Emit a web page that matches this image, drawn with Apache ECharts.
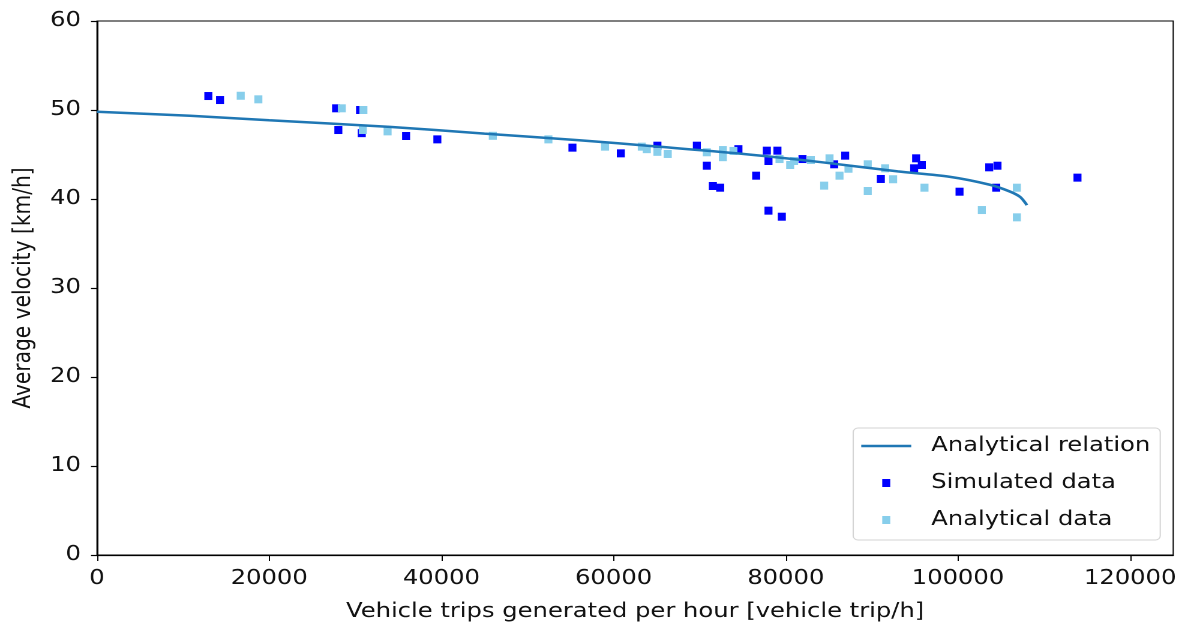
<!DOCTYPE html>
<html>
<head>
<meta charset="utf-8">
<script src="https://cdn.jsdelivr.net/npm/echarts@6/dist/echarts.min.js"></script>
<style>
  html, body { margin: 0; padding: 0; background: #fff; overflow: hidden; }
  /* The figure is laid out narrower and widened by the same factor as STRETCH below */
  #chart { width: 985.8px; height: 628px; transform: scaleX(1.2); transform-origin: 0 0; }
</style>
</head>
<body>
<div id="chart"></div>
<script>
// Analytical speed–flow relation [vehicle trip/h, km/h]
const relationFlow  = [0, 10800, 20000, 34000, 45000, 56000, 65000, 74700, 84000, 93000, 99000, 103700, 106000, 107200, 107800, 108000];
const relationSpeed = [49.8, 49.35, 48.85, 48.1, 47.35, 46.6, 45.9, 45.1, 44.15, 43.1, 42.5, 41.6, 40.85, 40.25, 39.6, 39.3];

// Simulated data points
const simFlow  = [12930, 14290, 27765, 28030, 30550, 30750, 35900, 39530, 55220, 60840, 65090, 69670, 70830, 71530, 72380, 74500,
                  76560, 77800, 77990, 79030, 77990, 79540, 81940, 85620, 86900, 91040, 94910, 95140, 95800, 100180, 103630, 104590, 104440, 113880];
const simSpeed = [51.57, 51.12, 50.19, 47.75, 50.0, 47.4, 47.08, 46.7, 45.77, 45.13, 45.99, 45.99, 43.74, 41.46, 41.27, 45.6,
                  42.62, 45.43, 44.27, 45.43, 38.69, 38.01, 44.49, 43.9, 44.87, 42.25, 43.45, 44.57, 43.82, 40.82, 43.56, 43.74, 41.27, 42.4];

// Analytical data points
const anaFlow  = [16690, 18740, 28430, 30940, 30870, 33750, 45970, 52430, 59010, 63270, 63860, 65090, 66290, 70830, 72690, 72690,
                  73920, 79270, 80510, 80970, 82910, 84460, 85080, 86240, 87280, 89520, 89520, 91540, 92470, 96110, 102770, 106840, 106840];
const anaSpeed = [51.6, 51.2, 50.19, 50.0, 47.75, 47.6, 47.1, 46.7, 45.88, 45.88, 45.6, 45.3, 45.06, 45.25, 45.5, 44.7,
                  45.4, 44.49, 43.82, 44.27, 44.38, 41.5, 44.57, 42.62, 43.4, 43.9, 40.9, 43.45, 42.22, 41.27, 38.76, 41.27, 37.94];

const xTicks = [0, 20000, 40000, 60000, 80000, 100000, 120000];
const yTicks = [0, 10, 20, 30, 40, 50, 60];

const STRETCH = 1.2;           // horizontal widening applied by CSS
const hx = v => v / STRETCH;   // horizontal length in layout units
const zip = (a, b) => a.map((v, i) => [v, b[i]]);
const FONT = 'DejaVu Sans';
const FS = 20.2;
const TEXT = '#111';
const MARK = 8;

const chart = echarts.init(document.getElementById('chart'), null, { renderer: 'canvas', devicePixelRatio: 2 });
chart.setOption({
  animation: false,
  backgroundColor: '#ffffff',
  grid: {
    left: hx(97), right: hx(10), top: 21, bottom: 73,
    show: true, borderColor: '#000', borderWidth: 1, backgroundColor: 'transparent'
  },
  xAxis: {
    type: 'value',
    min: 0, max: 125000, interval: 20000,
    name: 'Vehicle trips generated per hour [vehicle trip/h]',
    nameLocation: 'middle', nameGap: 47,
    nameTextStyle: { fontFamily: FONT, fontSize: FS, color: TEXT },
    axisLine: { show: true, onZero: false, lineStyle: { color: '#000', width: 1.2 } },
    axisTick: { show: true, length: 6, customValues: xTicks, lineStyle: { color: '#000', width: 1 } },
    axisLabel: { customValues: xTicks, formatter: v => String(v), fontFamily: FONT, fontSize: FS, color: TEXT, margin: 14 },
    splitLine: { show: false }
  },
  yAxis: {
    type: 'value',
    min: 0, max: 60, interval: 10,
    name: 'Average velocity [km/h]',
    nameLocation: 'middle', nameGap: 51,
    nameTextStyle: { fontFamily: FONT, fontSize: FS, color: TEXT },
    axisLine: { show: true, onZero: false, lineStyle: { color: '#000', width: 1 } },
    axisTick: { show: true, length: hx(6), customValues: yTicks, lineStyle: { color: '#000', width: 1.2 } },
    axisLabel: { customValues: yTicks, formatter: v => String(v), fontFamily: FONT, fontSize: FS, color: TEXT, margin: hx(16) },
    splitLine: { show: false }
  },
  legend: {
    orient: 'vertical',
    right: hx(23), bottom: 88,
    itemWidth: hx(50), itemHeight: 8, itemGap: 15,
    padding: [7, hx(10), 9, hx(8)],
    backgroundColor: '#fff',
    borderColor: '#d4d4d4', borderWidth: 1, borderRadius: 4,
    textStyle: { fontFamily: FONT, fontSize: FS, lineHeight: 22, color: TEXT, padding: [0, 0, 0, hx(14)] },
    data: [
      { name: 'Analytical relation', icon: 'path://M0,0 H167 V10 H0 Z' },
      { name: 'Simulated data',      icon: 'path://M0,0 H5 V6 H0 Z' },
      { name: 'Analytical data',     icon: 'path://M0,0 H5 V6 H0 Z' }
    ]
  },
  series: [
    {
      name: 'Simulated data',
      type: 'scatter',
      symbol: 'rect', symbolSize: [hx(MARK), MARK],
      itemStyle: { color: '#0000ff', opacity: 1 },
      z: 2,
      data: zip(simFlow, simSpeed)
    },
    {
      name: 'Analytical data',
      type: 'scatter',
      symbol: 'rect', symbolSize: [hx(MARK), MARK],
      itemStyle: { color: '#87ceeb', opacity: 1 },
      z: 3,
      data: zip(anaFlow, anaSpeed)
    },
    {
      name: 'Analytical relation',
      type: 'line',
      showSymbol: false, symbol: 'none',
      smooth: 0.3,
      lineStyle: { color: '#1f77b4', width: 2.5 },
      itemStyle: { color: '#1f77b4' },
      z: 4,
      data: zip(relationFlow, relationSpeed)
    }
  ]
});
</script>
</body>
</html>
